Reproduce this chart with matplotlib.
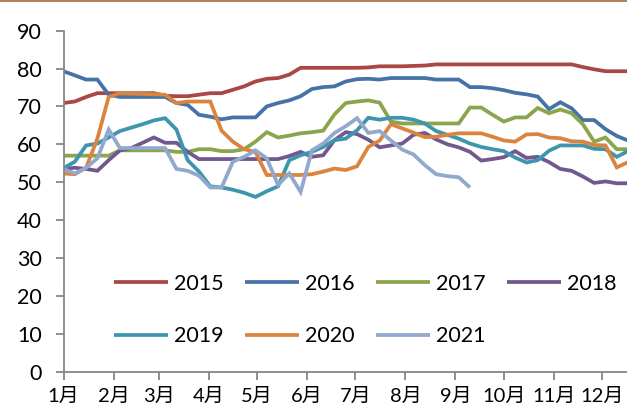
import matplotlib
matplotlib.use("Agg")
import matplotlib.pyplot as plt
import numpy as np

plt.rcParams['font.family'] = ['Lato', 'Noto Sans CJK SC', 'DejaVu Sans']

years = ["2015", "2016", "2017", "2018", "2019", "2020", "2021"]
colors = ["#AA4643", "#4572A7", "#89A54E", "#71588F", "#3D96AE", "#DB843D", "#92A8CD"]

month_labels = ["1月", "2月", "3月", "4月", "5月", "6月", "7月", "8月", "9月", "10月", "11月", "12月"]
month_start_days = [0, 31, 59, 90, 120, 151, 181, 212, 243, 273, 304, 334]

s2015 = [70.9, 71.3, 72.5, 73.5, 73.5, 73.5, 73.5, 73.5, 73.5, 72.8, 72.7, 72.7, 73.1, 73.5, 73.5,
         74.4, 75.3, 76.6, 77.3, 77.5, 78.4, 80.2, 80.2, 80.2, 80.2, 80.2, 80.2, 80.3, 80.6, 80.6,
         80.6, 80.7, 80.8, 81.1, 81.1, 81.1, 81.1, 81.1, 81.1, 81.1, 81.1, 81.1, 81.1, 81.1, 81.1,
         81.1, 80.4, 79.8, 79.3, 79.3, 79.3]
s2016 = [79.3, 78.2, 77.1, 77.1, 73.1, 72.5, 72.5, 72.5, 72.5, 72.5, 70.9, 70.4, 67.8, 67.3, 66.6,
         67.1, 67.1, 67.1, 70.0, 70.9, 71.6, 72.7, 74.6, 75.1, 75.3, 76.6, 77.2, 77.3, 77.1, 77.5,
         77.5, 77.5, 77.5, 77.1, 77.1, 77.1, 75.1, 75.1, 74.8, 74.3, 73.6, 73.2, 72.6, 69.3, 71.1,
         69.5, 66.4, 66.4, 64.0, 62.2, 61.0]
s2017 = [57.0, 57.0, 57.0, 57.0, 57.0, 58.4, 58.4, 58.4, 58.4, 58.4, 58.0, 58.0, 58.7, 58.7, 58.2,
         58.2, 58.7, 60.7, 63.2, 61.8, 62.3, 62.9, 63.2, 63.6, 67.9, 70.9, 71.3, 71.6, 71.0, 66.0,
         65.5, 65.5, 65.5, 65.5, 65.5, 65.5, 69.7, 69.7, 67.8, 66.0, 67.1, 67.1, 69.6, 68.2, 69.2,
         68.2, 65.3, 60.7, 61.8, 58.7, 58.7]
s2018 = [53.5, 53.8, 53.5, 53.0, 55.8, 58.4, 59.0, 60.4, 61.8, 60.4, 60.4, 58.0, 56.1, 56.1, 56.1,
         56.1, 56.1, 56.1, 56.1, 56.1, 56.9, 58.0, 56.7, 57.1, 61.1, 63.2, 62.7, 61.2, 59.2, 59.7,
         60.2, 62.5, 63.0, 61.3, 60.0, 59.2, 58.0, 55.7, 56.1, 56.6, 58.2, 56.4, 56.7, 55.3, 53.5,
         53.0, 51.5, 49.8, 50.2, 49.7, 49.7]
s2019 = [53.7, 55.4, 59.7, 60.2, 61.8, 63.5, 64.4, 65.3, 66.3, 66.9, 63.9, 55.8, 52.8, 48.9, 48.6,
         48.0, 47.2, 46.1, 47.6, 48.9, 55.8, 57.1, 58.0, 59.3, 61.1, 61.5, 63.7, 67.0, 66.5, 67.0,
         67.0, 66.5, 65.5, 63.5, 62.5, 61.5, 60.2, 59.3, 58.7, 58.2, 56.5, 55.2, 55.8, 58.3, 59.7,
         59.7, 59.7, 58.8, 58.7, 56.7, 58.2]
s2020 = [52.3, 52.1, 53.8, 61.5, 72.5, 73.5, 73.4, 73.3, 73.2, 73.1, 70.9, 71.3, 71.3, 71.3, 63.6,
         60.7, 58.7, 58.0, 51.9, 51.9, 51.9, 51.9, 52.1, 52.8, 53.6, 53.2, 54.2, 59.3, 61.0, 65.3,
         64.2, 63.1, 61.9, 62.0, 62.5, 62.9, 62.9, 62.9, 62.0, 61.0, 60.7, 62.6, 62.7, 61.8, 61.6,
         60.8, 60.7, 59.8, 59.7, 53.9, 55.3]
s2021 = [53.5, 52.3, 53.8, 56.3, 63.9, 59.0, 59.0, 59.0, 59.0, 59.0, 53.5, 53.0, 51.7, 48.6, 48.6,
         55.4, 56.7, 58.4, 56.3, 49.3, 52.3, 47.4, 58.4, 60.2, 63.0, 64.8, 66.9, 63.0, 63.5, 61.0,
         58.6, 57.3, 54.5, 52.1, 51.6, 51.3, 48.6]

series = [s2015, s2016, s2017, s2018, s2019, s2020, s2021]

W, H = 627, 407
fig = plt.figure(figsize=(W / 100, H / 100), dpi=100)
ax = fig.add_axes([63.5 / W, 1 - 371.5 / H, 1 - 63.5 / W, (371.5 - 30.7) / H])

handles = {}
for name, vals, c in zip(years, series, colors):
    days = np.arange(len(vals)) * 7
    ln, = ax.plot(days, vals, color=c, lw=2.7, label=name, solid_joinstyle='miter', solid_capstyle='butt')
    handles[name] = ln

ax.set_xlim(0, (627 - 63.5) / 1.613)
ax.set_ylim(0, 90)
ax.set_yticks(np.arange(0, 91, 10))
ax.set_xticks(month_start_days)
ax.set_xticklabels(month_labels)

for s in ['top', 'right']:
    ax.spines[s].set_visible(False)
for s in ['left', 'bottom']:
    ax.spines[s].set_color('#868686')
    ax.spines[s].set_linewidth(1.3)
FS = 15.5
ax.tick_params(axis='both', colors='#868686', length=5.5, width=1.3, direction='out',
               labelcolor='black', labelsize=FS)
ax.tick_params(axis='y', pad=10)
ax.tick_params(axis='x', pad=6.5, labelsize=14.5)

# row-wise legend order for a column-filled 4-column legend
order = ["2015", "2019", "2016", "2020", "2017", "2021", "2018"]
leg = ax.legend([handles[k] for k in order], order, ncol=4, loc='upper left',
                bbox_to_anchor=((114 - 63.5) / (W - 63.5), (371.5 - 274) / (371.5 - 30.7)),
                frameon=False, fontsize=FS, handlelength=2.5, handletextpad=0.28,
                columnspacing=1.0, labelspacing=1.5, borderaxespad=0, borderpad=0)

fig.add_artist(plt.Line2D([0, 1], [1 - 0.8 / H, 1 - 0.8 / H], color='#A0693A', lw=1.2))

fig.savefig("out.png", dpi=100)
